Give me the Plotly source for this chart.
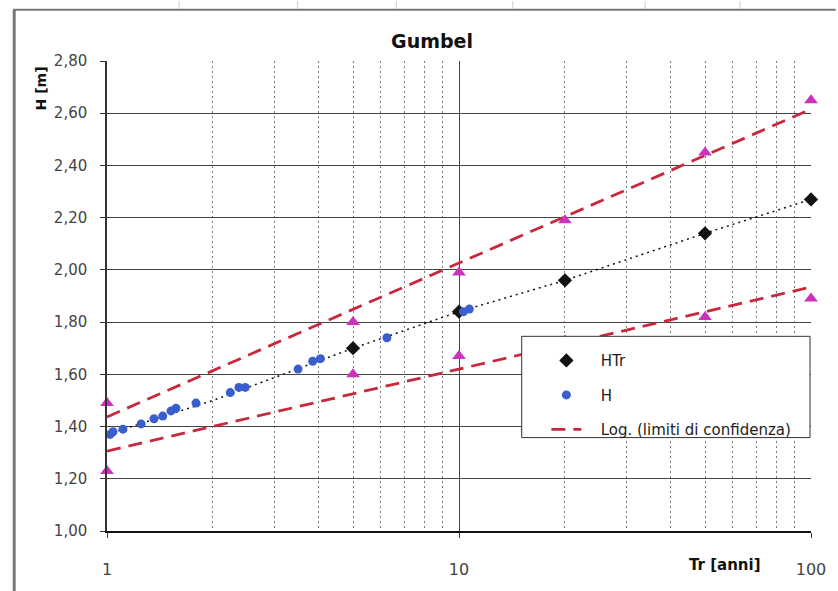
import numpy as np
import plotly.graph_objects as go

# Observed maxima H [m] with their empirical return periods Tr [anni]
tr_obs = [1.02, 1.04, 1.11, 1.25, 1.36, 1.44, 1.52, 1.57, 1.79, 2.24, 2.37, 2.47,
          3.49, 3.84, 4.04, 6.24, 10.3, 10.7]
h_obs = [1.37, 1.38, 1.39, 1.41, 1.43, 1.44, 1.46, 1.47, 1.49, 1.53, 1.55, 1.55,
         1.62, 1.65, 1.66, 1.74, 1.84, 1.85]

# Gumbel quantiles HTr for the design return periods
tr_design = [5, 10, 20, 50, 100]
h_design = [1.70, 1.84, 1.96, 2.14, 2.27]

# Gumbel curve (dotted)
tr_curve = [1, 2, 5, 10, 20, 50, 100]
h_curve = [1.37, 1.50, 1.70, 1.84, 1.96, 2.14, 2.27]

# Confidence limits
tr_conf = [1, 5, 10, 20, 50, 100]
h_upper = [1.49, 1.80, 1.99, 2.19, 2.45, 2.65]
h_lower = [1.23, 1.60, 1.67, 1.73, 1.82, 1.89]

y_ticks = [1.0, 1.2, 1.4, 1.6, 1.8, 2.0, 2.2, 2.4, 2.6, 2.8]
x_major = [1, 10, 100]
x_minor = [2, 3, 4, 5, 6, 7, 8, 9, 20, 30, 40, 50, 60, 70, 80, 90]

FONT = "DejaVu Sans"
RED = "#c8283c"
PINK = "#cc33bb"
BLUE = "#3a5fcd"
PAD = "\u00a0\u00a0\u00a0"

# logarithmic trendlines of the confidence limits: y = a + b ln(Tr)
tr_fit = np.logspace(0, 2, 120)
b_up, a_up = np.polyfit(np.log(tr_conf), h_upper, 1)
b_lo, a_lo = np.polyfit(np.log(tr_conf), h_lower, 1)

fig = go.Figure()

fig.add_trace(go.Scatter(
    x=tr_curve, y=h_curve, mode="lines", showlegend=False, hoverinfo="skip",
    line=dict(color="#111111", width=1.5, dash="2px,4px")))

fig.add_trace(go.Scatter(
    x=tr_fit, y=a_up + b_up * np.log(tr_fit), mode="lines",
    name=PAD + "Log. (limiti di confidenza)", legendgroup="c", legendrank=3,
    line=dict(color=RED, width=2.8, dash="14px,8px")))
fig.add_trace(go.Scatter(
    x=tr_fit, y=a_lo + b_lo * np.log(tr_fit), mode="lines", showlegend=False,
    legendgroup="c", line=dict(color=RED, width=2.8, dash="14px,8px")))

for vals in (h_upper, h_lower):
    fig.add_trace(go.Scatter(
        x=tr_conf, y=vals, mode="markers", showlegend=False, cliponaxis=False,
        marker=dict(symbol="triangle-up", size=12, color=PINK)))

fig.add_trace(go.Scatter(
    x=tr_design, y=h_design, mode="markers", name=PAD + "HTr", legendgroup="a",
    legendrank=1, cliponaxis=False,
    marker=dict(symbol="diamond", size=11, color="#111111")))

fig.add_trace(go.Scatter(
    x=tr_obs, y=h_obs, mode="markers", name=PAD + "H", legendgroup="b",
    legendrank=2, cliponaxis=False,
    marker=dict(symbol="circle", size=9, color=BLUE)))

# pixel -> paper helpers for the plot area (l=107, r=820, t=61, b=539)
def px(x):
    return (x - 107) / 713.0

def py(y):
    return (539 - y) / 478.0

shapes = [
    # chart frame
    dict(type="line", xref="paper", yref="paper", x0=px(13), x1=px(13),
         y0=py(9), y1=py(600), line=dict(color="#777777", width=3)),
    dict(type="line", xref="paper", yref="paper", x0=px(12), x1=px(845),
         y0=py(9), y1=py(9), line=dict(color="#777777", width=2)),
    # legend box
    dict(type="rect", xref="paper", yref="paper", x0=px(527), x1=px(819),
         y0=py(444), y1=py(341), fillcolor="white", layer="above",
         line=dict(color="#333333", width=1)),
]
for xs in (180, 300, 400, 518, 652, 748):
    shapes.append(dict(type="line", xref="paper", yref="paper", x0=px(xs), x1=px(xs),
                       y0=py(0), y1=py(8), line=dict(color="#cccccc", width=1)))

fig.update_layout(
    width=838, height=591,
    margin=dict(l=107, r=18, t=61, b=52),
    paper_bgcolor="white", plot_bgcolor="white",
    separators=",.",
    font=dict(family=FONT, color="#333333"),
    title=dict(text="<b>Gumbel</b>", x=432 / 838, y=1 - 41 / 591,
               xanchor="center", yanchor="middle",
               font=dict(family=FONT, size=19, color="#111111")),
    showlegend=True,
    legend=dict(x=px(552), y=py(349), xanchor="left", yanchor="top",
                bgcolor="rgba(0,0,0,0)", borderwidth=0, tracegroupgap=12,
                font=dict(family=FONT, size=15, color="#222222")),
    shapes=shapes,
    annotations=[
        dict(text="<b>H [m]</b>", xref="paper", yref="paper", x=px(40), y=py(89),
             textangle=-90, showarrow=False, xanchor="center", yanchor="middle",
             font=dict(family=FONT, size=14, color="#111111")),
        dict(text="<b>Tr [anni]</b>", xref="paper", yref="paper", x=px(733), y=py(574),
             showarrow=False, xanchor="center", yanchor="middle",
             font=dict(family=FONT, size=15, color="#111111")),
    ],
)

fig.update_xaxes(
    type="log", range=[0, 2],
    tickmode="array", tickvals=x_major, ticktext=[str(v) for v in x_major],
    ticks="outside", ticklen=5, tickcolor="#333333", ticklabelstandoff=18,
    tickfont=dict(family=FONT, size=16, color="#444444"),
    showgrid=True, gridcolor="#444444", gridwidth=1,
    showline=True, linecolor="#111111", linewidth=2,
    zeroline=False,
    minor=dict(tickmode="array", tickvals=x_minor, showgrid=True,
               gridcolor="#7a7a7a", griddash="2px,3px", gridwidth=1, ticks=""),
)

fig.update_yaxes(
    range=[1.0, 2.8], tickmode="array", tickvals=y_ticks, tickformat=".2f",
    ticks="outside", ticklen=5, tickcolor="#333333", ticklabelstandoff=10,
    tickfont=dict(family=FONT, size=15, color="#444444"),
    showgrid=True, gridcolor="#444444", gridwidth=1,
    showline=True, linecolor="#333333", linewidth=1.5,
    zeroline=False,
)

fig.write_html("out.html")
